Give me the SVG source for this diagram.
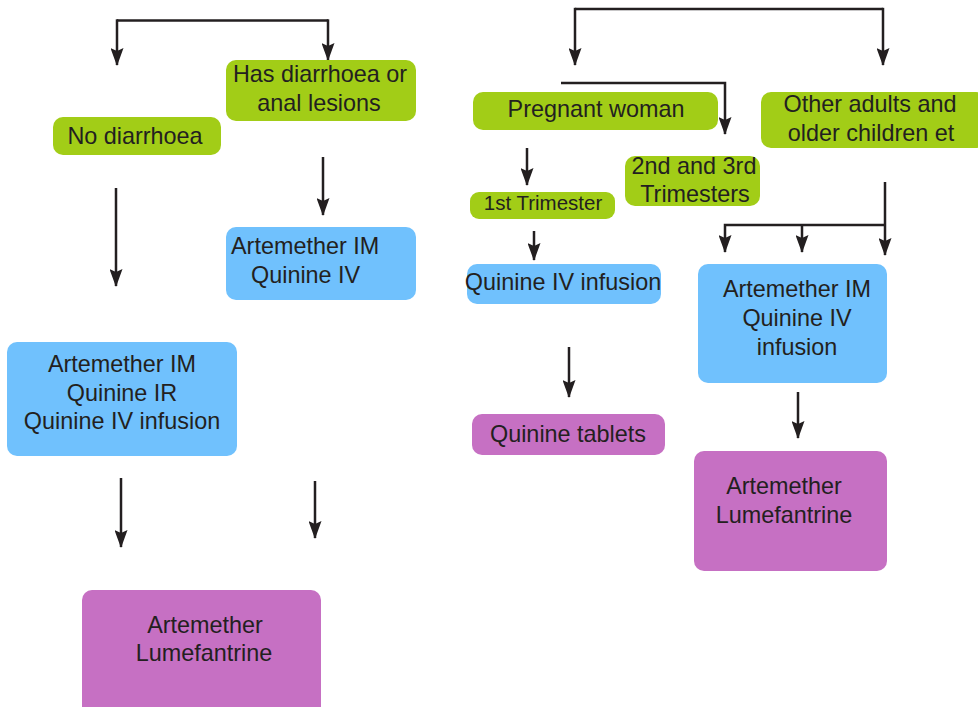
<svg xmlns="http://www.w3.org/2000/svg" width="978" height="707" viewBox="0 0 978 707">
<style>
.g{fill:#a2cd17}
.b{fill:#70c1fd}
.m{fill:#c670c3}
text{font-family:"Liberation Sans",Arial,sans-serif;font-size:23.4px;fill:#231f20;text-anchor:middle}
.c path{fill:none;stroke:#231f20;stroke-width:2.5}
.c .a{marker-end:url(#ah)}
</style>
<defs>
<marker id="ah" viewBox="0 0 18 13" refX="17" refY="6.5" markerWidth="18" markerHeight="13" markerUnits="userSpaceOnUse" orient="auto">
<path d="M0,0 L18,6.5 L0,13 L3,6.5 Z" fill="#231f20"/>
</marker>
</defs>
<rect width="978" height="707" fill="#fff"/>
<g class="c" id="connectors">
<path d="M117,20.5 H328"/>
<path class="a" d="M117,19.3 V65"/>
<path class="a" d="M328,19.3 V60"/>
<path class="a" d="M116,188 V286"/>
<path class="a" d="M323,157 V215"/>
<path class="a" d="M121,478 V547"/>
<path class="a" d="M315,481 V538"/>
<path d="M575,9 H883"/>
<path class="a" d="M575,7.8 V65"/>
<path class="a" d="M883,7.8 V65"/>
<path class="a" d="M561,83 H725 V134"/>
<path class="a" d="M527,148 V185"/>
<path class="a" d="M534,231 V260"/>
<path class="a" d="M569,347 V397"/>
<path class="a" d="M885,182 V255"/>
<path class="a" d="M885,225 H725 V252"/>
<path class="a" d="M802,225 V252"/>
<path class="a" d="M798,392 V438"/>
</g>
<g id="has-diarrhoea"><rect class="g" x="226" y="60" width="190" height="61" rx="10"/><text x="320" y="82">Has diarrhoea or</text><text x="319" y="111">anal lesions</text></g>
<g id="no-diarrhoea"><rect class="g" x="53" y="117" width="168" height="38" rx="10"/><text x="135" y="144">No diarrhoea</text></g>
<g id="art-quin-iv"><rect class="b" x="226" y="227" width="190" height="73" rx="10"/><text x="231" y="254" style="text-anchor:start">Artemether IM</text><text x="251" y="283" style="text-anchor:start">Quinine IV</text></g>
<g id="art-quin-ir"><rect class="b" x="7" y="342" width="230" height="114" rx="10"/><text x="122" y="372">Artemether IM</text><text x="122" y="401">Quinine IR</text><text x="122" y="429">Quinine IV infusion</text></g>
<g id="art-lum-left"><rect class="m" x="82" y="590" width="239" height="130" rx="10"/><text x="205" y="633">Artemether</text><text x="204" y="661">Lumefantrine</text></g>
<g id="pregnant"><rect class="g" x="473" y="92" width="245" height="38" rx="10"/><text x="596" y="117">Pregnant woman</text></g>
<g id="other-adults"><rect class="g" x="761" y="92" width="225" height="56" rx="10"/><text x="870" y="112">Other adults and</text><text x="871" y="141">older children et</text></g>
<g id="first-tri"><rect class="g" x="470" y="192" width="145" height="27" rx="9"/><text x="543" y="210" style="font-size:20.5px">1st Trimester</text></g>
<g id="second-third"><rect class="g" x="625" y="156" width="135" height="50" rx="10"/><text x="694" y="174">2nd and 3rd</text><text x="695" y="202">Trimesters</text></g>
<g id="quinine-iv-inf"><rect class="b" x="467" y="264" width="194" height="40" rx="10"/><text x="563" y="290">Quinine IV infusion</text></g>
<g id="art-quin-iv-inf"><rect class="b" x="698" y="264" width="189" height="119" rx="10"/><text x="797" y="297">Artemether IM</text><text x="797" y="326">Quinine IV</text><text x="797" y="355">infusion</text></g>
<g id="quinine-tablets"><rect class="m" x="472" y="414" width="193" height="41" rx="10"/><text x="568" y="442">Quinine tablets</text></g>
<g id="art-lum-right"><rect class="m" x="694" y="451" width="193" height="120" rx="10"/><text x="784" y="494">Artemether</text><text x="784" y="523">Lumefantrine</text></g>
</svg>
